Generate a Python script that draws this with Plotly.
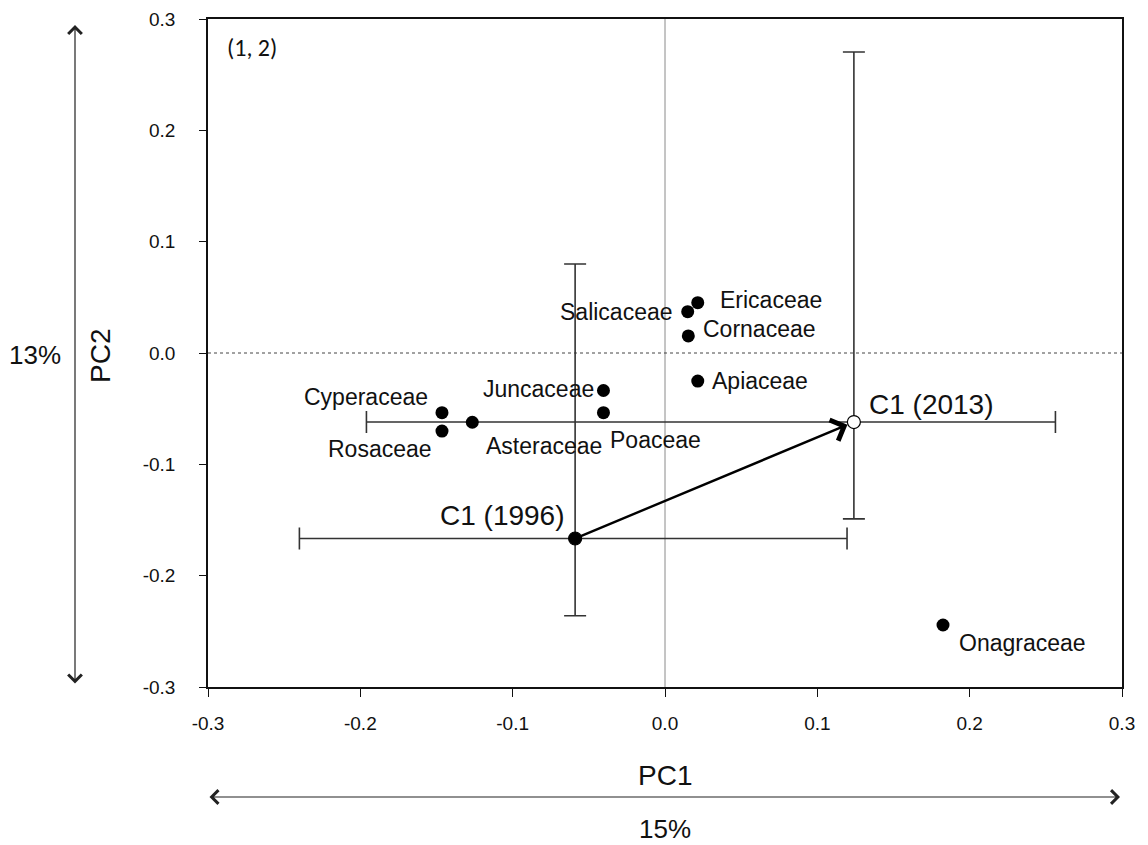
import plotly.graph_objects as go

# ---- data ----
families = ["Ericaceae", "Salicaceae", "Cornaceae", "Apiaceae", "Juncaceae",
            "Poaceae", "Cyperaceae", "Rosaceae", "Asteraceae", "Onagraceae"]
fam_pc1 = [0.0215, 0.0149, 0.0153, 0.0215, -0.0404, -0.0404, -0.1464, -0.1464, -0.1265, 0.1825]
fam_pc2 = [0.0452, 0.0371, 0.0153, -0.0252, -0.0337, -0.0536, -0.0536, -0.0701, -0.0622, -0.2443]

centroids = ["C1 (1996)", "C1 (2013)"]
cen_pc1 = [-0.059, 0.124]
cen_pc2 = [-0.1666, -0.062]
cen_x_low = [-0.240, -0.196]
cen_x_high = [0.1195, 0.2563]
cen_y_low = [-0.236, -0.149]
cen_y_high = [0.080, 0.2704]

x_ticks = [-0.3, -0.2, -0.1, 0.0, 0.1, 0.2, 0.3]
y_ticks = [-0.3, -0.2, -0.1, 0.0, 0.1, 0.2, 0.3]
x_title = "PC1"
y_title = "PC2"
pc1_pct = "15%"
pc2_pct = "13%"
panel_label = "(1, 2)"

# ---- label placement (style) ----
fam_label_style = {
    "Ericaceae": ("left", 20, 3),
    "Salicaceae": ("right", -13, 0),
    "Cornaceae": ("left", 13, 7),
    "Apiaceae": ("left", 12, 0),
    "Juncaceae": ("right", -7, 2),
    "Poaceae": ("left", 5, -27),
    "Cyperaceae": ("right", -12, 16),
    "Rosaceae": ("right", -8, -18),
    "Asteraceae": ("left", 12, -24),
    "Onagraceae": ("left", 14, -18),
}
cen_label_style = {
    "C1 (1996)": ("right", -8, 23),
    "C1 (2013)": ("left", 13, 18),
}

FONT = "Arial, Liberation Sans, sans-serif"
TXT = "#111111"
EB = "#333333"

# plot-area geometry in page pixels (page has an 8px body margin)
PL, PR, PT, PB = 208, 1122, 19, 687
PW, PH = PR - PL, PB - PT


def px(xp):
    return (xp - PL) / PW


def py(yp):
    return (PB - yp) / PH


fig = go.Figure()

# zero reference lines
fig.add_shape(type="line", x0=0, x1=0, y0=-0.3, y1=0.3, xref="x", yref="y",
              line=dict(color="#8a8a8a", width=1), layer="below")
fig.add_shape(type="line", x0=-0.3, x1=0.3, y0=0, y1=0, xref="x", yref="y",
              line=dict(color="#444444", width=1, dash="dot"), layer="below")

# centroid error bars
for i in range(2):
    fig.add_trace(go.Scatter(
        x=[cen_pc1[i]], y=[cen_pc2[i]], mode="markers",
        marker=dict(size=1, color="rgba(0,0,0,0)"),
        error_x=dict(type="data", symmetric=False,
                     array=[cen_x_high[i] - cen_pc1[i]],
                     arrayminus=[cen_pc1[i] - cen_x_low[i]],
                     color=EB, thickness=1.6, width=11),
        error_y=dict(type="data", symmetric=False,
                     array=[cen_y_high[i] - cen_pc2[i]],
                     arrayminus=[cen_pc2[i] - cen_y_low[i]],
                     color=EB, thickness=1.6, width=11),
        showlegend=False, hoverinfo="skip"))

# families
fig.add_trace(go.Scatter(x=fam_pc1, y=fam_pc2, mode="markers",
                         marker=dict(size=13, color="black"),
                         text=families, showlegend=False))

# arrow between centroids
fig.add_annotation(x=cen_pc1[1], y=cen_pc2[1], ax=cen_pc1[0], ay=cen_pc2[0],
                   xref="x", yref="y", axref="x", ayref="y", text="",
                   showarrow=True, arrowhead=4, arrowsize=1.8, arrowwidth=2.4,
                   arrowcolor="black", standoff=7)

# centroids
fig.add_trace(go.Scatter(x=cen_pc1, y=cen_pc2, mode="markers",
                         marker=dict(size=13, color=["black", "white"],
                                     line=dict(color="black", width=1.2)),
                         showlegend=False))

# family labels
for name, x, y in zip(families, fam_pc1, fam_pc2):
    anc, dx, dy = fam_label_style[name]
    fig.add_annotation(x=x, y=y, xref="x", yref="y", text=name, showarrow=False,
                       xanchor=anc, yanchor="middle", xshift=dx, yshift=dy,
                       font=dict(family=FONT, size=23, color=TXT))
for name, x, y in zip(centroids, cen_pc1, cen_pc2):
    anc, dx, dy = cen_label_style[name]
    fig.add_annotation(x=x, y=y, xref="x", yref="y", text=name, showarrow=False,
                       xanchor=anc, yanchor="middle", xshift=dx, yshift=dy,
                       font=dict(family=FONT, size=28, color=TXT))

# panel label
fig.add_annotation(x=px(225), y=py(48), xref="paper", yref="paper", text=panel_label,
                   showarrow=False, xanchor="left", yanchor="middle",
                   font=dict(family="Carlito, Calibri, Arial, sans-serif", size=24, color=TXT))

# axis titles
fig.add_annotation(x=0.5, y=py(775), xref="paper", yref="paper", text=x_title,
                   showarrow=False, xanchor="center", yanchor="middle",
                   font=dict(family=FONT, size=28, color=TXT))
fig.add_annotation(x=px(101), y=py(356), xref="paper", yref="paper", text=y_title,
                   showarrow=False, xanchor="center", yanchor="middle", textangle=-90,
                   font=dict(family=FONT, size=28, color=TXT))

# outer double arrows
fig.add_annotation(x=px(75), y=py(25), xref="paper", yref="paper",
                   ax=0, ay=660, axref="pixel", ayref="pixel", text="",
                   showarrow=True, arrowside="end+start", arrowhead=4, startarrowhead=4,
                   arrowsize=2.2, startarrowsize=2.2, arrowwidth=1.2, arrowcolor="#222222")
fig.add_annotation(x=px(1120), y=py(797), xref="paper", yref="paper",
                   ax=-912, ay=0, axref="pixel", ayref="pixel", text="",
                   showarrow=True, arrowside="end+start", arrowhead=4, startarrowhead=4,
                   arrowsize=2.2, startarrowsize=2.2, arrowwidth=1.2, arrowcolor="#222222")

fig.add_annotation(x=px(35), y=py(355), xref="paper", yref="paper",
                   text=pc2_pct, showarrow=False, xanchor="center", yanchor="middle",
                   font=dict(family=FONT, size=26, color=TXT))
fig.add_annotation(x=0.5, y=py(829), xref="paper", yref="paper",
                   text=pc1_pct, showarrow=False, xanchor="center", yanchor="middle",
                   font=dict(family=FONT, size=26, color=TXT))

fig.update_layout(
    width=1140, height=837,
    margin=dict(l=PL - 8, r=1148 - PR, t=PT - 8, b=845 - PB, autoexpand=False),
    plot_bgcolor="white", paper_bgcolor="white",
    font=dict(family=FONT, color=TXT),
)
fig.update_xaxes(range=[-0.3, 0.3], tickvals=x_ticks, automargin=False,
                 ticktext=[f"{v:.1f}" for v in x_ticks],
                 showgrid=False, zeroline=False, showline=True, mirror=True,
                 linecolor="#111111", linewidth=1.6, ticks="outside", ticklen=8,
                 tickwidth=1.4, tickcolor="#111111", ticklabelstandoff=10,
                 tickfont=dict(family=FONT, size=19, color=TXT))
fig.update_yaxes(range=[-0.3, 0.3], tickvals=y_ticks, automargin=False,
                 ticktext=[f"{v:.1f}" for v in y_ticks],
                 showgrid=False, zeroline=False, showline=True, mirror=True,
                 linecolor="#111111", linewidth=1.6, ticks="outside", ticklen=7,
                 tickwidth=1.4, tickcolor="#111111", ticklabelstandoff=20,
                 tickfont=dict(family=FONT, size=19, color=TXT))

fig.write_html("out.html")
